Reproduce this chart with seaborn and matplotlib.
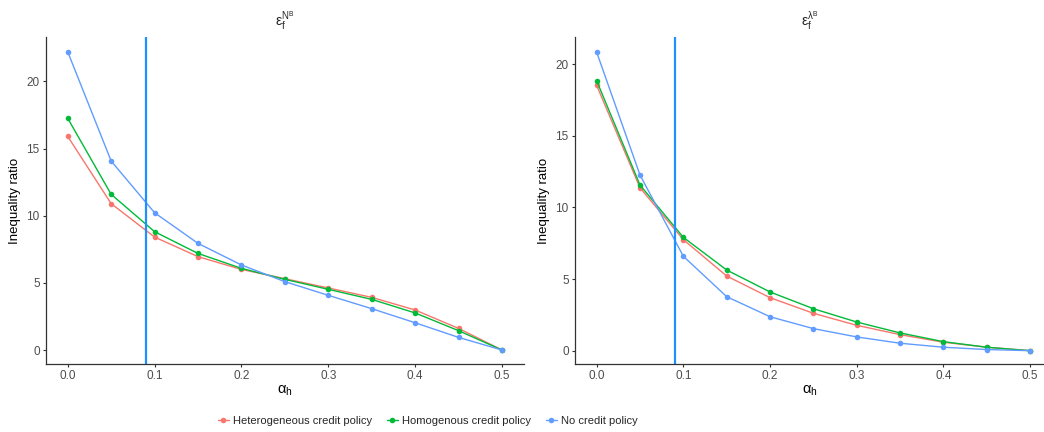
import matplotlib
matplotlib.use('Agg')
import matplotlib.pyplot as plt
import numpy as np
import pandas as pd
import seaborn as sns

# alpha_h grid
alpha = [0.0, 0.05, 0.1, 0.15, 0.2, 0.25, 0.3, 0.35, 0.4, 0.45, 0.5]
policies = ['Heterogeneous credit policy', 'Homogenous credit policy', 'No credit policy']

# left panel: epsilon_f^{N^B}
nb_het = [15.9, 10.9, 8.41, 6.95, 6.0, 5.31, 4.62, 3.92, 2.98, 1.61, 0.0]
nb_hom = [17.25, 11.59, 8.81, 7.19, 6.08, 5.26, 4.52, 3.77, 2.76, 1.44, 0.0]
nb_none = [22.2, 14.07, 10.22, 7.94, 6.33, 5.09, 4.07, 3.08, 2.03, 0.94, 0.0]

# right panel: epsilon_f^{lambda^B}
lb_het = [18.52, 11.37, 7.75, 5.21, 3.70, 2.61, 1.77, 1.12, 0.59, 0.24, 0.0]
lb_hom = [18.84, 11.56, 7.91, 5.63, 4.10, 2.93, 2.00, 1.24, 0.63, 0.24, 0.0]
lb_none = [20.84, 12.26, 6.59, 3.77, 2.37, 1.54, 0.96, 0.52, 0.24, 0.08, 0.0]

alpha_star = 0.09

def long_df(het, hom, none):
    return pd.DataFrame({
        'alpha': alpha * 3,
        'ratio': het + hom + none,
        'policy': [policies[0]] * len(alpha) + [policies[1]] * len(alpha) + [policies[2]] * len(alpha),
    })

palette = dict(zip(policies, ['#F8766D', '#00BA38', '#619CFF']))

sns.set_style('ticks')
plt.rcParams['font.family'] = ['Liberation Sans', 'DejaVu Sans']
plt.rcParams['mathtext.default'] = 'regular'

fig = plt.figure(figsize=(10.44, 4.32), dpi=100)
W, H = 1044, 432
ax1 = fig.add_axes([46 / W, 1 - 364 / H, (523.7 - 46) / W, (364 - 37) / H])
ax2 = fig.add_axes([575 / W, 1 - 364 / H, (1044 - 575) / W, (364 - 37) / H])

panels = [
    (ax1, long_df(nb_het, nb_hom, nb_none), r'$\epsilon_f^{N^B}$', (-1.04, 23.3), (-0.025, 0.525)),
    (ax2, long_df(lb_het, lb_hom, lb_none), r'$\epsilon_f^{\lambda^B}$', (-0.93, 21.9), (-0.025, 0.516)),
]

for ax, df, title, ylim, xlim in panels:
    sns.lineplot(data=df, x='alpha', y='ratio', hue='policy', palette=palette,
                 marker='o', markersize=4, markeredgewidth=0, linewidth=1,
                 ax=ax, legend=(ax is ax1))
    ax.axvline(alpha_star, color='#1E90FF', linewidth=1.6)
    ax.set_xlim(*xlim)
    ax.set_ylim(*ylim)
    ax.set_xticks([0.0, 0.1, 0.2, 0.3, 0.4, 0.5])
    ax.set_xticklabels(['0.0', '0.1', '0.2', '0.3', '0.4', '0.5'])
    ax.set_yticks([0, 5, 10, 15, 20])
    ax.set_xlabel(r'$\alpha_h$', fontsize=10.5, color='black', labelpad=1)
    ax.set_ylabel('Inequality ratio', fontsize=9.5, color='black', labelpad=4)
    ax.set_title(title, fontsize=10, pad=8)
    for s in ['top', 'right']:
        ax.spines[s].set_visible(False)
    for s in ['left', 'bottom']:
        ax.spines[s].set_color('#333333')
        ax.spines[s].set_linewidth(0.9)
    ax.tick_params(labelsize=8.5, labelcolor='#4D4D4D', color='#333333', length=2.5, width=0.8, pad=2)

handles, labels = ax1.get_legend_handles_labels()
ax1.get_legend().remove()
fig.legend(handles, labels, loc='center', bbox_to_anchor=(428 / W, 1 - 421 / H),
           ncol=3, frameon=False, fontsize=8, handlelength=1.0, columnspacing=1.3,
           handletextpad=0.4)

fig.savefig('out.png', dpi=100)
